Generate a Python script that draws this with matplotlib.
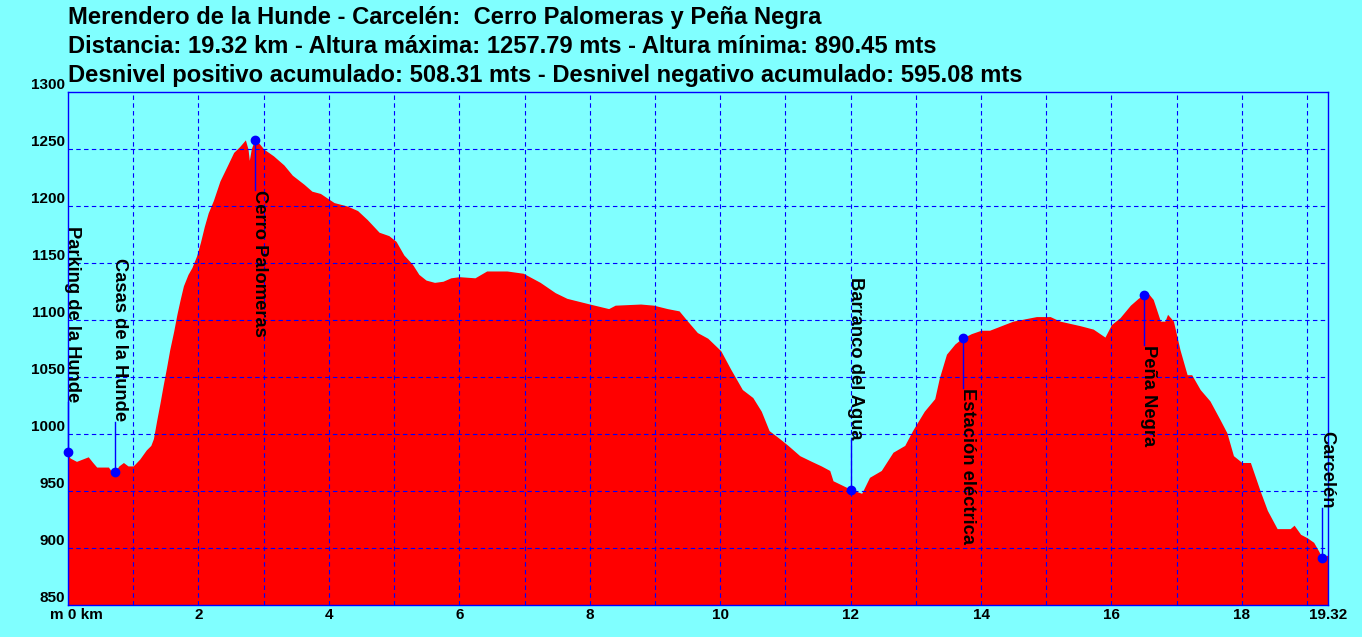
import matplotlib
matplotlib.use("Agg")
import matplotlib.pyplot as plt
import matplotlib.transforms as mtransforms

plt.rcParams['font.family'] = ['Liberation Sans', 'DejaVu Sans']

# ---- data ----
dist_km = [0.00, 0.03, 0.13, 0.22, 0.31, 0.38, 0.44, 0.55, 0.62, 0.68, 0.72, 0.78, 0.85, 0.92, 1.00,
           1.10, 1.20, 1.27, 1.31, 1.36, 1.41, 1.46, 1.51, 1.56, 1.62, 1.67, 1.72, 1.77, 1.84, 1.90,
           1.97, 2.03, 2.09, 2.15, 2.23, 2.33, 2.44, 2.54, 2.63, 2.72, 2.76, 2.78, 2.81, 2.86, 2.93,
           3.00, 3.15, 3.31, 3.44, 3.62, 3.74, 3.87, 4.08, 4.28, 4.44, 4.59, 4.77, 4.92, 5.03, 5.15,
           5.28, 5.38, 5.49, 5.62, 5.75, 5.87, 6.00, 6.24, 6.30, 6.42, 6.73, 6.98, 7.24, 7.47, 7.65,
           8.00, 8.29, 8.39, 8.78, 8.98, 9.19, 9.37, 9.50, 9.65, 9.81, 10.01, 10.16, 10.34, 10.50, 10.63,
           10.75, 10.91, 11.04, 11.22, 11.40, 11.55, 11.68, 11.73, 11.91, 12.02, 12.17, 12.29, 12.47, 12.65, 12.83,
           12.95, 13.13, 13.29, 13.36, 13.47, 13.60, 13.71, 13.85, 14.00, 14.13, 14.49, 14.85, 15.06, 15.21, 15.52,
           15.72, 15.90, 16.00, 16.13, 16.29, 16.41, 16.49, 16.54, 16.64, 16.75, 16.82, 16.86, 16.95, 17.05, 17.16,
           17.23, 17.36, 17.51, 17.67, 17.77, 17.87, 18.00, 18.13, 18.28, 18.39, 18.54, 18.74, 18.80, 18.90, 19.00,
           19.10, 19.18, 19.23, 19.32]
elev_m = [984, 979, 976, 978, 980, 975, 971, 971, 971, 966, 967, 972, 975, 972, 972,
          978, 986, 990, 996, 1012, 1027, 1043, 1058, 1074, 1090, 1105, 1118, 1130, 1140, 1146,
          1156, 1168, 1182, 1194, 1205, 1222, 1235, 1247, 1252, 1258, 1250, 1240, 1250, 1258, 1255,
          1250, 1244, 1236, 1227, 1219, 1213, 1211, 1203, 1200, 1196, 1188, 1177, 1174, 1169, 1157,
          1149, 1140, 1135, 1133, 1134, 1137, 1138, 1137, 1139, 1143, 1143, 1141, 1133, 1124, 1119,
          1114, 1110, 1113, 1114, 1113, 1110, 1108, 1099, 1089, 1084, 1073, 1057, 1039, 1032, 1020,
          1003, 996, 990, 981, 976, 972, 968, 959, 954, 951, 948, 962, 968, 984, 990,
          1003, 1020, 1031, 1049, 1070, 1079, 1084, 1088, 1091, 1091, 1099, 1103, 1103, 1099, 1095,
          1092, 1085, 1096, 1102, 1113, 1119, 1122, 1125, 1118, 1099, 1099, 1105, 1099, 1074, 1052,
          1052, 1039, 1029, 1012, 1001, 981, 975, 975, 950, 933, 917, 917, 920, 912, 909,
          905, 897, 891, 894]

wp_names = ["Parking de la Hunde", "Casas de la Hunde", "Cerro Palomeras", "Barranco del Agua",
            "Estación eléctrica", "Peña Negra", "Carcelén"]
wp_km = [0.00, 0.72, 2.86, 12.00, 13.72, 16.50, 19.23]
wp_elev = [984, 967, 1258, 951, 1084, 1122, 891]
wp_side = ["up", "up", "down", "up", "down", "down", "up"]

y_ticks = [850, 900, 950, 1000, 1050, 1100, 1150, 1200, 1250, 1300]
x_ticks = [0, 2, 4, 6, 8, 10, 12, 14, 16, 18, 19.32]
x_tick_labels = ["m 0 km", "2", "4", "6", "8", "10", "12", "14", "16", "18", "19.32"]

title_lines = ["Merendero de la Hunde - Carcelén:  Cerro Palomeras y Peña Negra",
               "Distancia: 19.32 km - Altura máxima: 1257.79 mts - Altura mínima: 890.45 mts",
               "Desnivel positivo acumulado: 508.31 mts - Desnivel negativo acumulado: 595.08 mts"]

# ---- figure ----
W, H = 1362, 637
fig = plt.figure(figsize=(W / 100, H / 100), dpi=100)
bg = "#80FFFF"
fig.patch.set_facecolor(bg)
left, right, top, bottom = 68, 1328, 92, 605
ax = fig.add_axes([left / W, 1 - bottom / H, (right - left) / W, (bottom - top) / H])
ax.set_facecolor(bg)

ax.fill_between(dist_km, elev_m, 850, color="#FF0000", linewidth=0, zorder=1)
ax.set_xlim(0, 19.32)
ax.set_ylim(850, 1300)

# grid
for yv in y_ticks[1:-1]:
    ax.axhline(yv, color="#0000FF", lw=0.8, ls=(0, (4, 3)), zorder=2)
for xv in range(1, 20):
    ax.axvline(xv, color="#0000FF", lw=0.8, ls=(0, (4, 3)), zorder=2)

for s in ax.spines.values():
    s.set_color("#0000FF")
    s.set_linewidth(1.0)
    s.set_zorder(5)

ax.set_yticks(y_ticks)
ax.set_yticklabels([str(v) for v in y_ticks], fontsize=11, fontweight="bold")
for lab in ax.get_yticklabels():
    lab.set_verticalalignment("bottom")
ax.set_xticks(x_ticks)
ax.set_xticklabels(x_tick_labels, fontsize=11, fontweight="bold")
ax.tick_params(axis="both", length=0, pad=2)
first = ax.get_xticklabels()[0]
first.set_transform(first.get_transform() + mtransforms.ScaledTranslation(8 / 100, 0, fig.dpi_scale_trans))

# waypoints
px_per_m = (bottom - top) / 450.0
off = 50 / px_per_m
for name, xk, ye, side in zip(wp_names, wp_km, wp_elev, wp_side):
    ty = ye + off if side == "up" else ye - off
    ax.plot([xk, xk], [ye, ty], color="#0000FF", lw=1.0, zorder=6, clip_on=False)
    ax.plot([xk], [ye], "o", color="#0000FF", ms=6, zorder=7, clip_on=False)
    ax.text(xk, ty, name, rotation=-90, rotation_mode="anchor",
            ha="right" if side == "up" else "left", va="baseline",
            fontsize=13.2, fontweight="bold", color="black", zorder=8)

baselines = [24, 53, 82]
for line, yb in zip(title_lines, baselines):
    fig.text(left / W, 1 - yb / H, line, ha="left", va="baseline",
             fontsize=17.1, fontweight="bold", color="black")

fig.savefig("out.png", dpi=100, facecolor=bg)
